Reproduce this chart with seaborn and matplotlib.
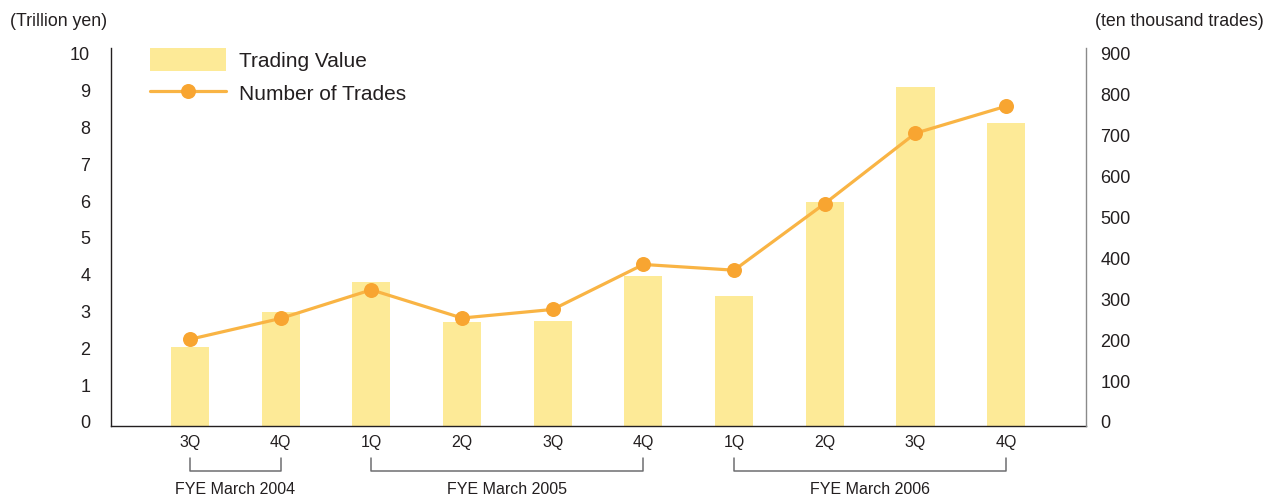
import numpy as np
import pandas as pd
import matplotlib
matplotlib.use("Agg")
import matplotlib.pyplot as plt
import matplotlib.transforms as mtransforms
from matplotlib.patches import Patch
from matplotlib.lines import Line2D
import seaborn as sns

# Quarterly data, FYE March 2004 (3Q) through FYE March 2006 (4Q)
quarters = ["3Q", "4Q", "1Q", "2Q", "3Q", "4Q", "1Q", "2Q", "3Q", "4Q"]
fiscal_years = ["FYE March 2004", "FYE March 2004",
                "FYE March 2005", "FYE March 2005", "FYE March 2005", "FYE March 2005",
                "FYE March 2006", "FYE March 2006", "FYE March 2006", "FYE March 2006"]
trading_value = [2.15, 3.10, 3.91, 2.83, 2.85, 4.08, 3.53, 6.09, 9.21, 8.23]   # trillion yen
num_trades = [212, 263, 333, 264, 285, 395, 381, 544, 716, 782]                 # ten thousand trades
left_ticks = list(range(0, 11))
right_ticks = list(range(0, 1000, 100))

BAR = "#FDEA97"
LINE = "#F9B444"
DOT = "#F8A531"
TEXT = "#231F20"

sns.set_theme(style="white")
plt.rcParams["font.family"] = ["Liberation Sans", "DejaVu Sans"]

df = pd.DataFrame({
    "period": [f"{fy} {q}" for fy, q in zip(fiscal_years, quarters)],
    "quarter": quarters,
    "fy": fiscal_years,
    "value": trading_value,
    "trades": num_trades,
})
df["pos"] = np.arange(len(df))

fig = plt.figure(figsize=(12.66, 4.96), dpi=100)
ax = fig.add_axes([111 / 1266, 1 - 426 / 496, (1086 - 111) / 1266, (426 - 48) / 496])

sns.barplot(data=df, x="period", y="value", color=BAR, saturation=1,
            width=0.42, ax=ax, order=list(df["period"]))
for p in ax.patches:
    p.set_edgecolor("none")

ax2 = ax.twinx()
sns.lineplot(data=df, x="pos", y="trades", ax=ax2, color=LINE, linewidth=2.3,
             marker="o", markersize=10.8, markerfacecolor=DOT,
             markeredgecolor=DOT, markeredgewidth=0)

ax.set_xlim(-0.87, 9.88)
ax.set_ylim(0, 10.27)
ax2.set_ylim(0, 10.27 * 90)

ax.set_yticks(left_ticks)
ax.set_yticklabels([str(t) for t in left_ticks], fontsize=13, color=TEXT)
ax2.set_yticks(right_ticks)
ax2.set_yticklabels([str(t) for t in right_ticks], fontsize=13, color=TEXT)
ax.set_xticks(df["pos"])
ax.set_xticklabels(quarters, fontsize=11.5, color=TEXT)
ax.tick_params(axis="both", length=0)
ax.tick_params(axis="y", pad=15)
ax.tick_params(axis="x", pad=6.5)
ax2.tick_params(axis="y", length=0, pad=10.5)

# value labels sit slightly above their gridline positions
lift = mtransforms.ScaledTranslation(0, 4 / 100, fig.dpi_scale_trans)
for lab in ax.get_yticklabels() + ax2.get_yticklabels():
    lab.set_transform(lab.get_transform() + lift)

ax.set_xlabel("")
ax.set_ylabel("")
ax2.set_xlabel("")
ax2.set_ylabel("")

for a in (ax, ax2):
    a.spines["top"].set_visible(False)
    a.grid(False)
ax.spines["left"].set_color("#231F20")
ax.spines["bottom"].set_color("#231F20")
ax.spines["right"].set_visible(False)
ax2.spines["left"].set_visible(False)
ax2.spines["bottom"].set_visible(False)
ax2.spines["right"].set_color("#8A8A8A")
for s in ("left", "bottom"):
    ax.spines[s].set_linewidth(1.0)
ax2.spines["right"].set_linewidth(1.0)

# Fiscal-year brackets under the quarter labels
trans = mtransforms.blended_transform_factory(ax.transData, ax.transAxes)
y_top, y_bot, y_txt = -0.085, -0.119, -0.169
for fy in dict.fromkeys(fiscal_years):
    idx = df.index[df["fy"] == fy]
    x0, x1 = df.loc[idx[0], "pos"], df.loc[idx[-1], "pos"]
    ax.plot([x0, x0, x1, x1], [y_top, y_bot, y_bot, y_top], transform=trans,
            color="#6D6E70", linewidth=1.1, clip_on=False)
    ax.text((x0 + x1) / 2, y_txt, fy, transform=trans, ha="center", va="center",
            fontsize=11.5, color=TEXT)

# Unit captions
fig.text(10 / 1266, 1 - 22 / 496, "(Trillion yen)", ha="left", va="center",
         fontsize=12.8, color=TEXT)
fig.text(1264 / 1266, 1 - 22 / 496, "(ten thousand trades)", ha="right", va="center",
         fontsize=12.8, color=TEXT)

handles = [
    Patch(facecolor=BAR, edgecolor="none"),
    Line2D([0], [0], color=LINE, linewidth=2.3, marker="o", markersize=10.8,
           markerfacecolor=DOT, markeredgewidth=0),
]
leg = ax.legend(handles, ["Trading Value", "Number of Trades"],
                loc="upper left", bbox_to_anchor=(150 / 1266, 1 - 48.5 / 496),
                bbox_transform=fig.transFigure, frameon=False, fontsize=15,
                handlelength=3.65, handleheight=1.3, handletextpad=0.6,
                labelspacing=0.5, borderaxespad=0, borderpad=0)
for t in leg.get_texts():
    t.set_color(TEXT)
ax2.set_zorder(ax.get_zorder() + 1)
ax2.patch.set_visible(False)
leg.remove()
ax2.add_artist(leg)

fig.savefig("out.png", dpi=100, facecolor="white")
